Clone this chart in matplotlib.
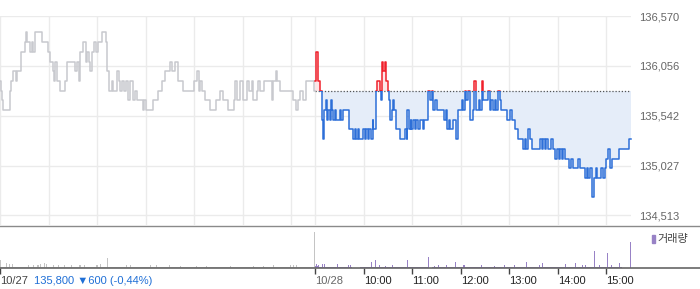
import matplotlib
matplotlib.use('Agg')
import matplotlib.pyplot as plt
from matplotlib.patches import Rectangle
from matplotlib.lines import Line2D

plt.rcParams['font.family'] = ['Liberation Sans', 'Noto Sans CJK KR', 'DejaVu Sans']

# 전일 종가
prev_close = 135800

# 10/27 (minutes since 09:00, price)
prev_min = [0, 1, 2, 4, 10, 12, 14, 16, 20, 21, 26, 30, 31, 32, 33, 37, 40, 41, 43, 50,
            52, 58, 59, 62, 66, 67, 68, 71, 74, 78, 80, 83, 92, 93, 95, 98, 99, 103, 106, 108,
            110, 111, 114, 116, 119, 121, 126, 129, 131, 132, 135, 139, 140, 145, 147, 149, 151, 154, 156, 158,
            161, 165, 167, 170, 177, 178, 181, 188, 189, 196, 201, 204, 210, 213, 217, 220, 227, 239, 240, 244,
            246, 248, 250, 253, 260, 267, 272, 276, 282, 290, 291, 293, 297, 301, 306, 308, 312, 313, 318, 319,
            322, 326, 337, 338, 342, 343, 347, 363, 366, 369, 371, 375, 379, 389, 390]
prev_price = [135900, 135800, 135700, 135600, 135600, 135800, 135900, 136000, 135900, 136000,
              136200, 136200, 136300, 136400, 136300, 136200, 136300, 136200, 136400, 136400,
              136300, 136300, 136200, 136100, 136000, 135900, 136100, 135900, 135800, 135800,
              135900, 136100, 136100, 136000, 136100, 135900, 136200, 136300, 136100, 136200,
              136100, 136000, 136200, 136300, 136200, 136300, 136400, 136400, 136300, 136000,
              135800, 135900, 135800, 136000, 135900, 135800, 135900, 135800, 135900, 135700,
              135900, 135700, 135800, 135700, 135600, 135700, 135600, 135600, 135700, 135800,
              135900, 136000, 136100, 136000, 136100, 135900, 135800, 135800, 135900, 136000,
              135800, 135900, 135800, 135700, 135600, 135700, 135800, 135700, 135600, 135700,
              135900, 135700, 135900, 135700, 135900, 135800, 135900, 135700, 135800, 135900,
              135800, 135900, 135700, 135900, 136000, 135900, 135800, 135700, 135600, 135700,
              135800, 135700, 135900, 135800, 135800]

# 10/28 (minutes since 09:00, price)
cur_min = [0, 1, 3, 6, 8, 10, 11, 13, 14, 16, 18, 19, 21, 22, 24, 26, 30, 32, 34, 42,
           47, 49, 51, 53, 54, 59, 61, 63, 65, 67, 69, 71, 72, 75, 76, 80, 81, 82, 84, 86,
           88, 90, 91, 93, 95, 96, 98, 100, 105, 111, 113, 114, 116, 118, 119, 121, 123, 125, 127, 129,
           133, 135, 140, 142, 144, 146, 148, 150, 159, 162, 163, 166, 167, 170, 174, 176, 181, 183, 185, 187,
           189, 192, 195, 197, 199, 202, 204, 206, 208, 214, 216, 218, 220, 222, 224, 226, 228, 230, 237, 241,
           243, 247, 251, 257, 259, 261, 263, 266, 268, 278, 280, 282, 284, 286, 288, 292, 294, 296, 299, 301,
           303, 305, 307, 309, 314, 317, 319, 325, 327, 334, 336, 338, 340, 342, 345, 347, 349, 354, 356, 358,
           360, 362, 365, 367, 376, 388, 390]
cur_price = [135900, 136200, 135900, 135800, 135500, 135300, 135600, 135700, 135500, 135600,
             135500, 135700, 135600, 135500, 135600, 135500, 135600, 135500, 135600, 135400,
             135300, 135400, 135300, 135400, 135300, 135400, 135300, 135400, 135300, 135400,
             135300, 135500, 135400, 135800, 135900, 135800, 135700, 136100, 136000, 136100,
             135900, 135800, 135700, 135500, 135600, 135700, 135600, 135400, 135300, 135400,
             135300, 135600, 135400, 135500, 135400, 135500, 135400, 135500, 135400, 135500,
             135400, 135500, 135800, 135700, 135800, 135600, 135700, 135600, 135500, 135600,
             135400, 135500, 135400, 135500, 135300, 135600, 135700, 135600, 135800, 135700,
             135800, 135500, 135600, 135900, 135600, 135700, 135600, 135900, 135700, 135800,
             135600, 135700, 135600, 135700, 135600, 135800, 135700, 135600, 135500, 135600,
             135500, 135400, 135300, 135200, 135300, 135200, 135400, 135300, 135200, 135300,
             135200, 135300, 135200, 135300, 135200, 135300, 135200, 135100, 135200, 135100,
             135200, 135100, 135200, 135100, 135000, 135100, 135000, 135100, 135000, 134900,
             135000, 134900, 135000, 134700, 134900, 135000, 134900, 135000, 134900, 135000,
             135100, 135200, 135000, 135100, 135200, 135300, 135300]

y_ticks = [134513, 135027, 135542, 136056, 136570]

# 거래량 (천주), 5분 단위 기본량
prev_vol5 = [1.5, 1.5, 1.2, 1.5, 1.2, 1.2, 1.5, 1.2, 1.2, 1.2, 1.5, 1.2, 1.2, 1.2, 1.2, 1.5,
             1.2, 1.2, 1.2, 1.2, 1.2, 1.2, 1.2, 1.5, 1.2, 1.2, 1.2, 1.2, 1.2, 1.2, 1.2, 1.2,
             1.2, 1.2, 1.2, 1.2, 1.2, 1.2, 1.2, 1.2, 1.2, 1.2, 1.2, 1.2, 1.2, 1.2, 1.2, 1.2,
             1.2, 1.2, 1.2, 1.2, 1.2, 1.2, 1.2, 1.2, 1.2, 1.2, 1.2, 1.2, 1.2, 1.2, 1.2, 1.2,
             1.2, 1.2, 1.2, 1.2, 1.2, 1.2, 1.2, 1.5, 1.5, 1.2, 1.2, 1.2, 1.2, 1.2]
cur_vol5 = [2, 1.5, 1.5, 1.5, 1.5, 1.5, 1.2, 1.2, 1.2, 0, 0, 1.2, 1.2, 1.2, 1.2, 1.2,
            1.2, 1.2, 1.2, 1.5, 1.2, 1.2, 1.2, 1.2, 1.2, 1.2, 1.2, 1.2, 0.5, 1.2, 1.2, 1.2,
            1.2, 1.2, 1.2, 1.2, 1.2, 1.2, 1.2, 1.2, 1.2, 1.2, 1.2, 1.2, 1.2, 1.2, 1.2, 1.5,
            1.5, 1.5, 1.5, 1.5, 1.5, 1.5, 1.5, 1.5, 1.5, 1.5, 1.5, 1.5, 1.5, 1.5, 1.5, 1.5,
            1.5, 1.5, 1.5, 1.5, 1.5, 1.5, 1.5, 1.5, 1.5, 1.5, 1.5, 1.2, 0, 0]
# 눈에 띄는 분봉 거래량 (minute, 천주)
prev_spike_min = [0, 8, 12, 15, 35, 41, 47, 50, 55, 58, 66, 72, 80, 89, 99, 105, 120, 124, 133,
                  157, 161, 186, 194, 210, 223, 243, 256, 285, 314, 326, 338, 359, 363, 367, 389]
prev_spike_vol = [8, 5, 4, 4, 3, 3, 3, 4, 5, 4, 3, 3, 3, 3, 3, 3, 3, 4, 10,
                  3, 3, 3, 3, 3, 2, 2, 2, 2, 2, 2, 3, 3, 3, 3, 36]
cur_spike_min = [1, 4, 9, 12, 28, 41, 44, 70, 75, 80, 87, 95, 114, 140, 147, 153, 162, 174, 184,
                 206, 222, 234, 246, 261, 278, 281, 310, 322, 331, 334, 345, 352, 361, 366, 376, 390]
cur_spike_vol = [4, 3, 4, 4, 4, 3, 3, 6, 8, 3, 2, 3, 8, 11, 2, 3, 3, 6, 3,
                 3, 2, 3, 3, 6, 3, 5, 4, 5, 3, 3, 17, 3, 15, 3, 5, 26]

day_len = 390
gray = '#c8c9ce'
blue = '#2d6fd8'
red = '#f0202b'
purple = '#9882c6'

fig = plt.figure(figsize=(7, 2.89), dpi=100)
W, H = 700, 289
ax = fig.add_axes([0, 1 - 225 / H, 630.5 / W, (225 - 16) / H])
axv = fig.add_axes([0, 1 - 268 / H, 630.5 / W, 42 / H])

cur_x = [day_len + m for m in cur_min]

# grid
hours = [0, 60, 120, 180, 240, 300, 360, 390, 450, 510, 570, 630, 690, 750]
for h in hours:
    ax.axvline(h, color='#ebebeb', lw=1, zorder=0)
for t in y_ticks:
    ax.axhline(t, color='#ebebeb', lw=1, zorder=0)

ax.plot(prev_min, prev_price, drawstyle='steps-post', color=gray, lw=1.1, zorder=3)

ax.fill_between(cur_x, cur_price, prev_close, step='post',
                where=[p <= prev_close for p in cur_price], interpolate=False,
                color='#e5edf9', lw=0, zorder=1)
ax.fill_between(cur_x, cur_price, prev_close, step='post',
                where=[p >= prev_close for p in cur_price],
                color='#fde6e8', lw=0, zorder=1)
ax.hlines(prev_close, day_len, 2 * day_len, colors='#555555', linestyles=(0, (1, 1.5)),
          lw=0.9, zorder=2)

l_blue, = ax.plot(cur_x, cur_price, drawstyle='steps-post', color=blue, lw=1.1, zorder=4)
l_red, = ax.plot(cur_x, cur_price, drawstyle='steps-post', color=red, lw=1.1, zorder=4)
l_blue.set_clip_path(Rectangle((0, 130000), 1000, prev_close - 130000, transform=ax.transData))
l_red.set_clip_path(Rectangle((0, prev_close), 1000, 5000, transform=ax.transData))

ax.set_xlim(0, 2 * day_len)
ax.set_ylim(134415, 136570)
ax.set_xticks([])
ax.yaxis.tick_right()
ax.set_yticks(y_ticks)
ax.set_yticklabels([f'{v:,}' for v in y_ticks], color='#666666', fontsize=8)
ax.tick_params(axis='y', length=0, pad=6)
for s in ax.spines.values():
    s.set_visible(False)

# volume
bucket = list(range(0, day_len, 5))
axv.bar(bucket, prev_vol5, width=5, align='edge', color='#cfcfcf', lw=0)
axv.bar([day_len + b for b in bucket], cur_vol5, width=5, align='edge', color=purple, lw=0)
axv.bar(prev_spike_min, prev_spike_vol, width=1.3, color='#c4c4c4', lw=0)
axv.bar([day_len + m for m in cur_spike_min], cur_spike_vol, width=1.3, color=purple, lw=0)
axv.set_xlim(0, 2 * day_len)
axv.set_ylim(0, 42)
axv.set_yticks([])
for s in axv.spines.values():
    s.set_visible(False)

tick_pos = [0, 390, 450, 510, 570, 630, 690, 750]
tick_lab = ['10/27', '10/28', '10:00', '11:00', '12:00', '13:00', '14:00', '15:00']
axv.set_xticks(tick_pos)
axv.set_xticklabels(tick_lab, fontsize=8, ha='left')
axv.tick_params(axis='x', length=4, width=1, color='#444444', pad=2)
for lab in axv.get_xticklabels():
    lab.set_color('#222222')
axv.get_xticklabels()[0].set_color('#444444')
axv.get_xticklabels()[1].set_color('#666666')

fig.add_artist(Line2D([0, 1], [1 - 225.5 / H] * 2, color='#8a8a8a', lw=1))
fig.add_artist(Line2D([0, 1], [1 - 268 / H] * 2, color='#666666', lw=1.2))

fig.text(34 / W, 1 - 280.5 / H, '135,800 ▼600 (-0,44%)', color='#1f6fd6', fontsize=8, va='center')
fig.patches.append(Rectangle((652 / W, 1 - 243 / H), 2.5 / W, 8 / H, color=purple,
                             transform=fig.transFigure, figure=fig))
fig.text(657 / W, 1 - 239 / H, '거래량', color='#444444', fontsize=8, va='center')

fig.savefig('out.png', dpi=100)
